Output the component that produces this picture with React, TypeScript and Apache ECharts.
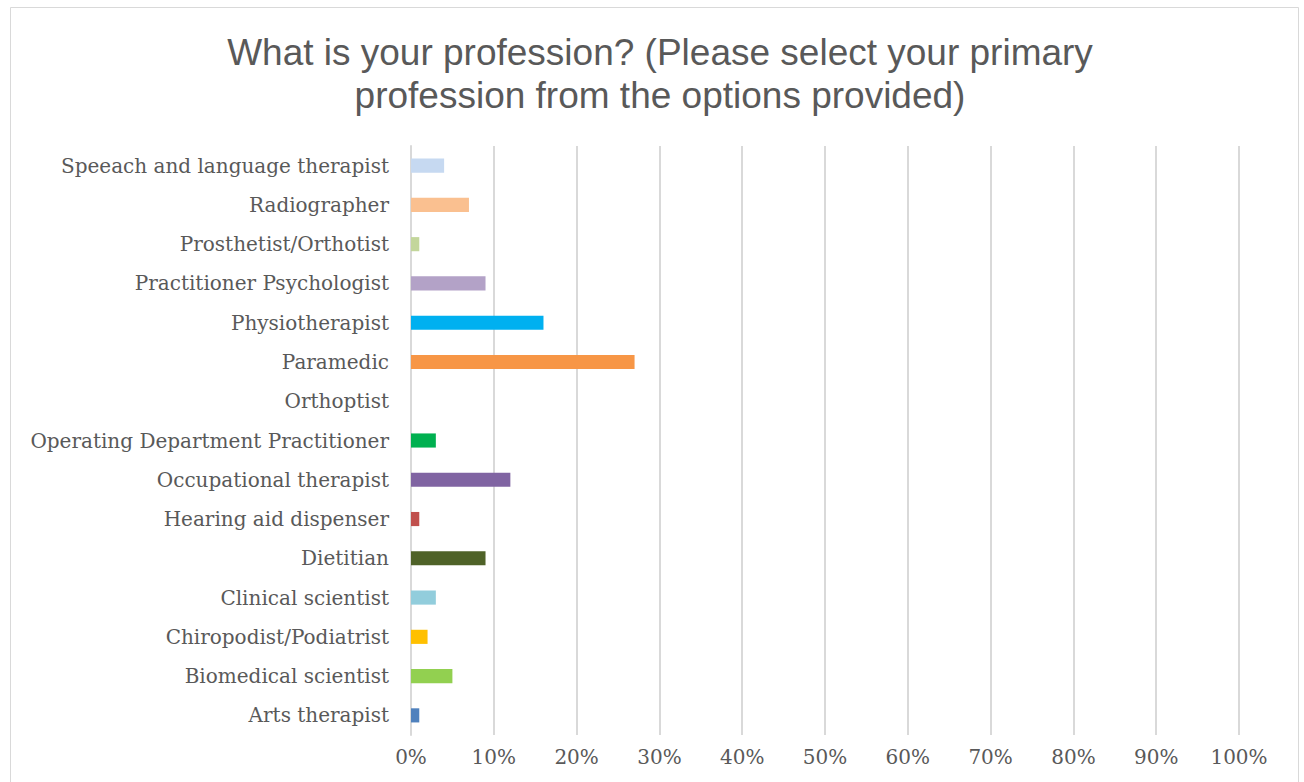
import React, { useEffect, useRef } from "react";
import * as echarts from "echarts";

const categories = [
  "Arts therapist",
  "Biomedical scientist",
  "Chiropodist/Podiatrist",
  "Clinical scientist",
  "Dietitian",
  "Hearing aid dispenser",
  "Occupational therapist",
  "Operating Department Practitioner",
  "Orthoptist",
  "Paramedic",
  "Physiotherapist",
  "Practitioner Psychologist",
  "Prosthetist/Orthotist",
  "Radiographer",
  "Speeach and language therapist",
];
const values = [1, 5, 2, 3, 9, 1, 12, 3, 0, 27, 16, 9, 1, 7, 4];
const colors = [
  "#4f81bd", "#92d050", "#ffc000", "#92cddc", "#4f6228", "#c0504d", "#8064a2",
  "#00b050", "#1f497d", "#f79646", "#00b0f0", "#b3a2c7", "#c3d69b", "#fac090", "#c6d9f1",
];
const title = "What is your profession? (Please select your primary\nprofession from the options provided)";

export default function App() {
  const ref = useRef<HTMLDivElement>(null);
  useEffect(() => {
    document.body.style.margin = "0";
    const chart = echarts.init(ref.current!, null, { renderer: "svg" });
    chart.setOption({
      animation: false,
      backgroundColor: "#ffffff",
      title: {
        text: title,
        left: 655,
        top: 26,
        textAlign: "center",
        textStyle: {
          fontFamily: "Liberation Sans, Arial, sans-serif",
          fontSize: 37,
          fontWeight: "normal",
          color: "#595959",
          lineHeight: 43,
        },
      },
      graphic: [
        {
          type: "rect",
          shape: { x: 10.5, y: 7.5, width: 1288, height: 800 },
          style: { fill: "none", stroke: "#d9d9d9", lineWidth: 1 },
          silent: true,
        },
      ],
      grid: { left: 411, right: 65, top: 146, bottom: 47, containLabel: false },
      xAxis: {
        type: "value",
        min: 0,
        max: 100,
        interval: 10,
        axisLabel: {
          formatter: "{value}%",
          fontFamily: "DejaVu Serif, serif",
          fontSize: 20,
          color: "#595959",
          margin: 12,
        },
        axisLine: { show: false },
        axisTick: { show: false },
        splitLine: { show: true, lineStyle: { color: "#d9d9d9", width: 2 } },
      },
      yAxis: {
        type: "category",
        data: categories,
        axisLabel: {
          fontFamily: "DejaVu Serif, serif",
          fontSize: 20,
          color: "#595959",
          margin: 22,
        },
        axisLine: { show: true, lineStyle: { color: "#d9d9d9", width: 2 } },
        axisTick: { show: false },
        splitLine: { show: false },
      },
      series: [
        {
          type: "bar",
          data: values.map((v, i) => ({ value: v, itemStyle: { color: colors[i] } })),
          barWidth: "36%",
        },
      ],
    });
    return () => chart.dispose();
  }, []);
  return <div ref={ref} style={{ width: 1304, height: 782 }} />;
}
